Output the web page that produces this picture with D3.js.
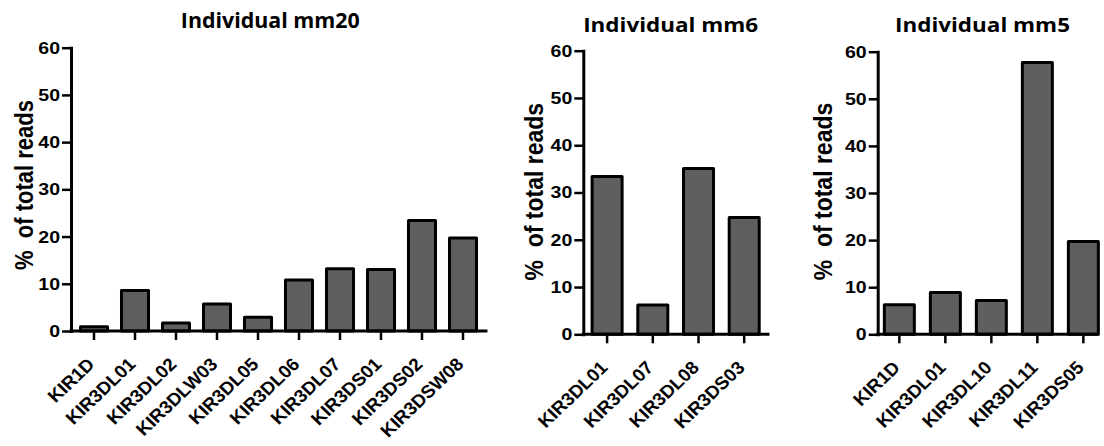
<!DOCTYPE html>
<html>
<head>
<meta charset="utf-8">
<script src="https://cdn.jsdelivr.net/npm/d3@7"></script>
<style>
  html, body { margin: 0; padding: 0; background: #fff; }
  svg { display: block; }
</style>
</head>
<body>
<svg id="chart" width="1104" height="446"></svg>
<script>
// Read share (% of total reads) per KIR3DL/KIR3DS allele, per individual
const mm20Genes = ["KIR1D", "KIR3DL01", "KIR3DL02", "KIR3DLW03", "KIR3DL05",
                   "KIR3DL06", "KIR3DL07", "KIR3DS01", "KIR3DS02", "KIR3DSW08"];
const mm20Pct   = [0.9, 8.6, 1.7, 5.7, 2.9, 10.8, 13.2, 13.0, 23.4, 19.7];

const mm6Genes  = ["KIR3DL01", "KIR3DL07", "KIR3DL08", "KIR3DS03"];
const mm6Pct    = [33.4, 6.2, 35.1, 24.7];

const mm5Genes  = ["KIR1D", "KIR3DL01", "KIR3DL10", "KIR3DL11", "KIR3DS05"];
const mm5Pct    = [6.3, 8.9, 7.2, 57.7, 19.7];

const yTicks    = [0, 10, 20, 30, 40, 50, 60];
const yMax      = 60;
const yLabel    = "%  of total reads";

// Panel geometry
const panels = [
  { title: "Individual mm20", genes: mm20Genes, values: mm20Pct,
    left: 71, right: 486, axisEnd: 486, top: 47.7, bottom: 331,
    padIn: 0.341, padOut: 0.2315,
    titleX: 270.3, titleY: 28.3, titleSize: 21, titleW: 179,
    labX: 33, labY: 185, labSize: 22 },
  { title: "Individual mm6", genes: mm6Genes, values: mm6Pct,
    left: 583.3, right: 768, axisEnd: 768, top: 50.7, bottom: 334.3,
    padIn: 0.3435, padOut: 0.1925,
    titleX: 670.7, titleY: 32.3, titleSize: 20, titleW: 175,
    labX: 543.3, labY: 191.7, labSize: 23 },
  { title: "Individual mm5", genes: mm5Genes, values: mm5Pct,
    left: 877.7, right: 1105, axisEnd: 1097, top: 51.7, bottom: 334.3,
    padIn: 0.348, padOut: 0.1445,
    titleX: 982.5, titleY: 32.3, titleSize: 20, titleW: 175,
    labX: 831.7, labY: 191.5, labSize: 23 }
];

const FONT = "'Liberation Sans', Arial, Helvetica, sans-serif";
const TITLE_FONT = "'Open Sans', 'Noto Sans', sans-serif";
const SX_TICK = 1.15;        // horizontal widening of the value labels
const SX_CAT = 1.05;         // horizontal widening of the category labels
const SX_LAB = 1.15;
const BAR_FILL = "#5f5f5f";

const svg = d3.select("#chart");

panels.forEach(p => {
  const g = svg.append("g");

  const x = d3.scaleBand()
    .domain(p.genes)
    .range([p.left, p.right])
    .paddingInner(p.padIn)
    .paddingOuter(p.padOut);

  const y = d3.scaleLinear()
    .domain([0, yMax])
    .range([p.bottom, p.top]);

  // bars
  g.selectAll("rect.bar")
    .data(p.genes.map((k, i) => ({ k, v: p.values[i] })))
    .join("rect")
    .attr("class", "bar")
    .attr("x", d => x(d.k))
    .attr("width", x.bandwidth())
    .attr("y", d => y(d.v))
    .attr("height", d => y(0) - y(d.v))
    .attr("fill", BAR_FILL)
    .attr("stroke", "#000")
    .attr("stroke-width", 3)
    .attr("stroke-linejoin", "round");

  // y axis
  const ya = g.append("g")
    .attr("transform", `translate(${p.left},0)`)
    .call(d3.axisLeft(y).tickValues(yTicks).tickSize(9).tickSizeOuter(0).tickPadding(2));
  ya.attr("font-size", null).attr("font-family", null);
  ya.select(".domain").attr("stroke-width", 3).attr("stroke-linecap", "square");
  ya.selectAll(".tick line").attr("stroke-width", 2.5);
  ya.selectAll(".tick text")
    .attr("x", 0)
    .attr("transform", `translate(-11,0) scale(${SX_TICK},1)`)
    .style("font-family", FONT).style("font-weight", "bold").style("font-size", "17px")
    .attr("fill", "#000");

  // x axis
  const xa = g.append("g")
    .attr("transform", `translate(0,${p.bottom})`)
    .call(d3.axisBottom(x).tickSize(9).tickSizeOuter(0));
  xa.attr("font-size", null).attr("font-family", null);
  xa.select(".domain")
    .attr("d", `M${p.left},0H${p.axisEnd}`)
    .attr("stroke-width", 3).attr("stroke-linecap", "square");
  xa.selectAll(".tick line").attr("stroke-width", 2.5);
  xa.selectAll(".tick text")
    .attr("y", 0).attr("dy", "0.35em")
    .attr("text-anchor", "end")
    .attr("transform", `translate(-3,30) scale(${SX_CAT},1) rotate(-45)`)
    .style("font-family", FONT).style("font-weight", "bold").style("font-size", "18px")
    .attr("fill", "#000");

  // y axis title
  g.append("text")
    .attr("transform", `translate(${p.labX},${p.labY}) scale(${SX_LAB},1) rotate(-90)`)
    .attr("text-anchor", "middle")
    .style("font-family", FONT).style("font-weight", "bold").style("font-size", p.labSize + "px")
    .attr("fill", "#000")
    .style("white-space", "pre")
    .text(yLabel);

  // panel title
  g.append("text")
    .attr("x", p.titleX).attr("y", p.titleY)
    .attr("text-anchor", "middle")
    .style("font-family", TITLE_FONT).style("font-weight", "bold").style("font-size", p.titleSize + "px")
    .attr("textLength", p.titleW).attr("lengthAdjust", "spacingAndGlyphs")
    .attr("fill", "#000")
    .text(p.title);
});
</script>
</body>
</html>
